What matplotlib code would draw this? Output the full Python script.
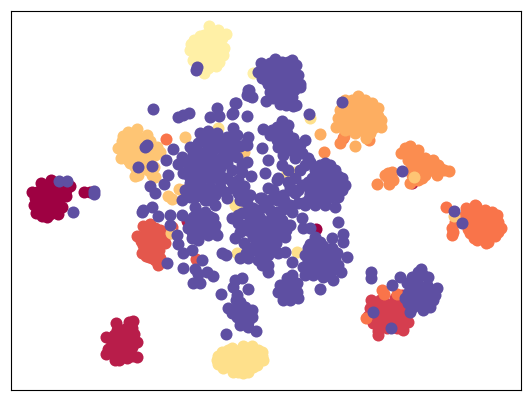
import matplotlib
matplotlib.use('Agg')
import matplotlib.pyplot as plt

# embedding coordinates, one list per class
dark_red = [(37,192),(41,183),(51,180),(60,183),(70,186),(32,192),(40,200),(50,190),(60,192),(66,196),
            (38,208),(48,200),(58,201),(36,213),(45,210),(55,210),(62,207),(42,216),(50,214),(58,214),
            (47,217),(84,192),(90,192),(316,229),
            (45,186),(55,186),(35,198),(45,195),(55,196),(62,187),(34,205),(43,205),(52,205),(60,197),(66,190)]
crimson = [(116,323),(129,322),(133,321),(106,337),(114,335),(124,335),(134,334),(137,342),(112,345),(122,345),
           (132,347),(106,354),(115,354),(125,352),(132,356),(137,357),(119,360),(127,358),(108,349),(187,221),
           (412,183),
           (111,340),(119,340),(129,340),(110,350),(118,348),(127,346),(122,357),(115,360),(130,352),(117,330),
           (125,329),(132,328)]
red = [(371,300),(380,300),(395,298),(402,295),(370,308),(380,307),(390,305),(400,305),(407,300),(368,316),
       (378,315),(388,315),(398,313),(406,310),(373,323),(383,323),(393,322),(403,320),(408,322),(378,331),
       (387,328),(397,328),(403,330),(378,335),
       (375,304),(385,303),(395,302),(375,312),(385,310),(395,309),(403,303),(383,319),(393,318),(402,316),
       (377,320),(390,325),(400,325)]
tomato = [(143,226),(150,224),(137,236),(144,235),(153,233),(160,230),(143,245),(152,243),(161,240),(169,233),
          (142,253),(150,252),(159,250),(165,243),(155,260),(160,258),(158,265),(149,257),(172,227),(196,259),
          (147,231),(155,228),(141,241),(148,240),(157,238),(147,248),(155,247),(146,256),(152,258)]
orange_red = [(446,207),(475,205),(466,208),(476,206),(485,210),(492,212),(497,215),(465,215),(473,215),(483,218),
              (491,220),(498,222),(501,228),(468,224),(476,225),(485,228),(493,230),(498,232),(470,233),(478,234),
              (488,237),(495,236),(477,240),(485,240),(453,232),(452,235),(452,228),(455,222),(486,243),(166,139),
              (382,290),(384,294),(397,294),(366,318),(343,138),
              (470,210),(480,212),(488,214),(470,220),(480,222),(488,224),(496,226),(473,229),(482,231),(490,233),
              (474,238),(482,236),(488,242),(468,229)]
orange = [(410,146),(401,153),(411,153),(418,150),(408,160),(417,158),(425,158),(433,160),(438,165),(444,170),
          (449,171),(436,172),(426,166),(416,165),(410,170),(418,172),(425,175),(415,178),(410,183),(418,180),
          (437,175),(388,178),(385,175),(392,172),(388,176),(377,184),(389,184),(393,180),(388,173),(340,143),
          (369,140),(324,152),(344,136),
          (413,156),(421,162),(430,164),(440,168),(413,165),(420,167),(430,170),(412,175),(422,178),(405,148),(416,155)]
light_orange = [(345,100),(358,96),(365,100),(340,110),(350,107),(360,107),(370,108),(375,113),(344,118),(354,117),
                (364,117),(374,120),(381,120),(338,126),(348,126),(358,125),(368,127),(378,125),(381,127),(345,130),
                (355,133),(366,130),(373,128),(366,138),(355,146),(320,134),
                (350,102),(362,102),(345,112),(355,112),(365,112),(372,115),(342,122),(352,121),(362,121),(372,124),
                (350,129),(360,130),(370,133),(352,100),(378,116),
                (372,103),(378,108),(338,118),(336,127)]
peach = [(123,136),(128,132),(137,129),(122,148),(130,140),(140,138),(148,147),(125,156),(133,150),(143,152),
         (152,150),(130,163),(140,160),(150,158),(160,152),(138,175),(152,175),(155,177),(185,137),(168,196),
         (172,199),(179,189),(135,176),(145,143),(128,152),(184,190),(244,152),(414,177),(454,216),(171,233),
         (127,145),(135,145),(142,145),(126,142),(133,133),(128,160),(136,156),(144,158),(155,155),(135,167),
         (145,165),(122,141),(154,167),(148,170),
         (147,135),(150,141),(157,147),(118,148),(121,158)]
yellow = [(232,348),(243,346),(252,346),(222,352),(232,355),(242,353),(252,354),(262,352),(217,360),(227,361),
          (237,360),(247,361),(257,360),(263,360),(223,368),(233,368),(243,369),(253,367),(238,372),(248,372),
          (218,364),(287,173),(295,172),(218,128),(235,205),(237,207),(243,212),(237,253),(297,252),(310,118),
          (237,351),(247,350),(227,356),(237,356),(247,356),(257,356),(222,362),(232,363),(242,364),(252,363),
          (228,366),(238,366),(248,366),(228,350),
          (257,365),(262,356),(218,356),(233,372),(243,373),(258,350)]
pale_yellow = [(210,30),(204,35),(214,36),(194,40),(203,42),(212,44),(222,38),(226,34),(190,50),(198,50),
               (208,52),(218,50),(223,55),(193,60),(203,60),(213,60),(219,62),(200,68),(208,68),(212,65),
               (204,73),(253,73),
               (207,38),(200,46),(208,47),(216,42),(195,55),(203,55),(212,56),(220,46),(198,64),(206,64),
               (214,56),(200,36),(218,30),(209,26),
               (191,44),(224,48),(216,66),(204,70)]
purple = [
    # top cluster
    (261,63),(275,59),(292,60),(258,72),(266,68),(276,68),(286,68),(296,65),(298,75),(262,78),
    (272,76),(282,76),(292,78),(300,84),(268,84),(278,84),(288,86),(300,87),(270,92),(280,92),
    (290,92),(273,98),(282,100),(292,97),(296,105),(266,101),(286,105),(248,93),(250,96),(280,104),
    (293,106),(235,103),(233,113),(247,116),(248,90),(252,97),(309,114),(342,102),
    (270,63),(282,62),(288,62),(262,70),(271,72),(281,72),(291,72),(266,80),(276,80),(286,80),
    (296,82),(273,88),(284,88),(294,90),(277,95),(287,96),(268,75),
    # branch down to the right
    (282,121),(288,125),(263,129),(272,130),(280,130),(287,133),(293,138),(305,140),(277,140),(285,145),
    (300,145),(288,150),(283,155),(302,153),(308,158),(295,150),(277,127),
    (283,127),(270,135),(275,135),(283,138),(290,145),(278,147),(295,143),(283,150),(295,158),(305,165),
    (300,170),(310,162),
    # right mass
    (325,163),(315,170),(325,172),(335,170),(342,178),(345,185),(312,178),(322,180),(332,180),(342,190),
    (305,185),(315,188),(325,188),(335,188),(310,195),(320,197),(330,197),(338,197),(305,205),(315,205),
    (325,205),(335,207),(338,222),(340,180),(338,193),(317,200),
    (320,165),(330,165),(318,175),(328,176),(338,176),(308,182),(318,184),(328,184),(338,184),(310,190),
    (320,192),(330,192),(308,200),
    # between the masses
    (248,137),(247,145),(262,148),(268,160),(265,173),(251,176),(247,162),(278,178),(282,165),(268,188),
    (273,190),(290,187),(295,193),(288,182),(303,203),(310,193),(302,218),(310,228),(290,225),(303,228),
    (282,210),(270,210),(277,223),(290,190),
    (288,170),(295,178),(302,185),(298,203),(290,205),(284,200),(292,212),(275,195),(283,195),
    # left scatter
    (153,109),(178,117),(183,115),(189,113),(217,108),(210,117),(219,116),(232,114),(236,103),(249,90),
    (247,95),(147,145),(145,147),(173,149),(166,160),(182,157),(178,164),(138,167),(152,166),(168,175),
    (164,184),(150,186),(155,193),(152,207),(143,210),(197,67),(196,70),
    # left mass
    (200,133),(208,131),(190,147),(198,143),(207,142),(217,133),(227,137),(233,128),(237,135),(246,143),
    (193,153),(203,153),(213,150),(223,150),(233,148),(187,163),(197,163),(207,163),(217,162),(227,163),
    (237,157),(185,173),(195,175),(205,173),(215,173),(227,178),(238,180),(190,183),(200,183),(210,187),
    (220,187),(233,188),(277,180),(182,200),(195,197),(205,200),(215,205),(227,198),(240,200),(250,195),
    (260,198),(270,200),(247,203),(263,207),(183,173),(200,177),(220,175),
    (204,137),(212,138),(222,142),(232,142),(196,148),(208,148),(218,145),(228,145),(240,146),(192,158),
    (202,158),(212,157),(222,157),(232,155),(242,165),(190,168),(200,168),(210,168),(220,168),(232,170),
    (242,172),(190,178),(200,179),(210,179),(220,181),(232,182),(244,186),(185,190),(195,190),(205,192),
    (215,195),(225,192),(238,193),
    # around the red-orange cluster
    (142,212),(158,216),(170,215),(182,215),(170,225),(177,235),(178,244),(183,253),(192,250),(167,263),
    (183,268),(202,260),(195,269),(198,274),(207,272),(213,276),(193,283),(200,283),(190,197),(200,195),
    # small block
    (197,213),(205,212),(190,220),(197,220),(205,220),(213,218),(188,228),(197,228),(205,228),(215,225),
    (192,238),(198,240),(208,235),(217,235),(195,207),(207,200),
    (193,217),(201,216),(209,216),(193,224),(201,224),(209,224),(192,232),(201,233),(210,230),(214,230),
    # centre block
    (248,195),(262,198),(242,200),(277,200),(298,190),(232,218),(242,213),(253,208),(267,207),(277,212),
    (238,223),(250,220),(260,218),(270,220),(282,220),(235,238),(247,230),(257,228),(267,228),(277,233),
    (285,237),(253,237),(263,238),(273,238),(248,248),(240,258),(248,258),(258,260),(268,255),(268,265),
    (268,272),(278,253),(285,252),(292,262),(222,253),(226,255),
    (238,215),(247,213),(258,213),(272,215),(284,225),(244,225),(254,224),(264,224),(274,225),(240,232),
    (252,233),(262,233),(272,233),(280,228),(286,230),(244,243),(256,243),(266,243),(276,243),(255,250),
    (262,250),(272,247),(262,265),(264,258),(246,253),
    # lower column
    (242,278),(235,280),(233,287),(248,289),(221,294),(237,295),(240,302),(228,308),(237,308),(245,307),
    (252,310),(237,317),(245,317),(252,317),(240,325),(248,327),(256,331),(226,334),
    (240,312),(232,313),(248,322),(242,320),(236,300),(245,312),
    # bottom middle
    (292,275),(280,285),(287,282),(297,283),(278,292),(287,292),(297,292),(283,300),(290,300),(298,298),
    (320,289),
    (285,287),(292,287),(283,295),(292,295),(287,278),(292,281),
    # lower right of the main mass
    (308,248),(315,252),(305,255),(313,260),(323,257),(332,248),(335,258),(303,267),(312,267),(322,267),
    (332,270),(341,272),(347,257),(343,242),(343,234),(332,238),(320,242),(315,237),(323,246),(313,275),
    (323,277),(333,280),(305,275),
    (310,244),(318,247),(312,255),(320,252),(328,253),(308,261),(318,262),(328,262),(308,270),(318,272),
    (328,275),(338,265),(337,253),
    # lower right cluster
    (421,269),(400,277),(412,277),(423,275),(428,277),(407,283),(417,283),(427,285),(437,288),(408,293),
    (418,292),(428,293),(435,295),(408,303),(418,302),(428,303),(410,312),(423,310),(430,307),
    (412,287),(422,288),(432,290),(412,297),(423,297),(433,300),(413,307),(423,305),(405,298),(418,272),
    # strays on other clusters
    (371,272),(371,278),(392,285),(373,312),(391,328),(402,171),(454,211),(462,223),
    (59,181),(67,181),(94,191),(94,194),(73,212),
]

classes = [dark_red, crimson, red, tomato, orange_red, orange, light_orange, peach, yellow, pale_yellow, purple]
colors = ['#9e0142', '#b81d4a', '#d53e4f', '#e4574c', '#f9744a', '#fb8d50', '#fdae61', '#fec574', '#fee08b', '#fff0a6', '#5e4fa2']

fig = plt.figure(figsize=(5.31, 4.01), dpi=100)
ax = fig.add_axes([11/531, 1 - 390/401, 510/531, 379/401])
for pts, c in zip(classes, colors):
    ax.scatter([p[0] for p in pts], [p[1] for p in pts], s=75, c=c, linewidths=0)
ax.set_xlim(11, 521)
ax.set_ylim(390, 11)
ax.set_xticks([])
ax.set_yticks([])
fig.savefig('out.png', dpi=100)
